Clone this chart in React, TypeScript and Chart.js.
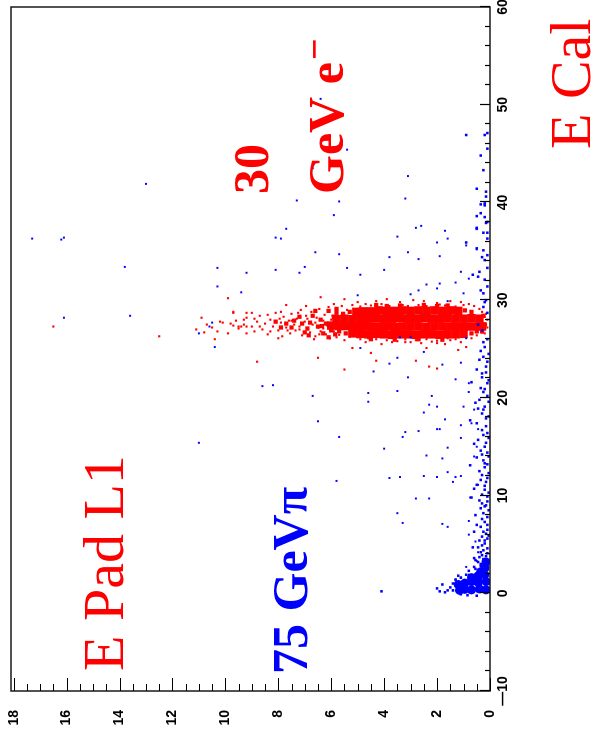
import React, { useEffect, useRef } from "react";
import { Chart, registerables } from "chart.js";

Chart.register(...registerables);

// Unrotated drawing size; the finished picture is turned 90° counter-clockwise.
const W = 744;
const H = 595;

// Axis tick labels
const ecalTickLabels = [-10, 0, 10, 20, 30, 40, 50, 60];
const padTickLabels = [0, 2, 4, 6, 8, 10, 12, 14, 16, 18];

// Points as [E Pad L1, E Cal]
const electronCore: number[][] = [
  [1.2, 28.9], [1.5, 28.95], [1.8, 28.9], [2.1, 28.95], [2.4, 28.9], [2.7, 28.95], [3.0, 28.9], [3.3, 28.95],
  [3.6, 28.9], [3.9, 28.9], [4.2, 28.95], [4.5, 28.85], [4.8, 28.85], [5.05, 28.8],
  [0.4, 28.1], [0.7, 28.15], [1.0, 28.1], [1.3, 28.1], [1.6, 28.15], [1.9, 28.1], [2.2, 28.1], [2.5, 28.15], [2.8, 28.1],
  [3.1, 28.1], [3.4, 28.15], [3.7, 28.1], [4.0, 28.1], [4.3, 28.15], [4.6, 28.1], [4.9, 28.1], [5.2, 28.05], [5.5, 28.1], [5.8, 28.05],
  [0.3, 27.3], [0.6, 27.3], [0.9, 27.3], [1.2, 27.25], [1.5, 27.3], [1.8, 27.3], [2.1, 27.3], [2.4, 27.25], [2.7, 27.3],
  [3.0, 27.3], [3.3, 27.3], [3.6, 27.25], [3.9, 27.3], [4.2, 27.3], [4.5, 27.3], [4.8, 27.35], [5.1, 27.3], [5.4, 27.35],
  [5.7, 27.35], [6.0, 27.4],
  [1.0, 26.55], [1.3, 26.5], [1.6, 26.5], [1.9, 26.45], [2.2, 26.5], [2.5, 26.5], [2.8, 26.45], [3.1, 26.5], [3.4, 26.5],
  [3.7, 26.45], [4.0, 26.5], [4.3, 26.55], [4.6, 26.5], [4.9, 26.55], [5.2, 26.6],
];

const electronDense: number[][] = [
  [5.9, 28.3], [6.2, 27.6], [6.0, 27.0], [6.4, 28.0], [6.5, 27.3], [6.3, 26.6], [6.7, 28.4], [6.8, 27.7], [6.9, 27.1],
  [7.1, 27.6], [7.2, 28.3], [7.0, 26.7], [7.4, 27.9], [7.5, 27.2], [7.7, 27.6], [6.1, 28.9], [6.6, 28.9], [6.1, 26.2],
  [5.8, 29.1], [5.85, 26.5], [7.9, 27.2], [8.1, 27.8], [6.35, 27.35], [6.85, 26.4], [5.7, 27.6], [0.2, 27.5],
  [0.25, 28.4], [0.3, 26.8], [0.7, 28.8], [0.95, 28.95], [5.3, 28.8], [5.55, 28.6], [5.8, 28.7], [0.7, 26.6],
  [0.5, 26.8], [5.45, 26.6], [5.7, 26.8], [6.0, 26.9], [1.6, 29.45], [2.5, 29.5], [3.4, 29.45], [4.3, 29.5],
  [2.0, 29.4], [3.9, 29.4], [1.8, 25.95], [2.7, 26.0], [3.6, 25.95], [4.5, 26.0],
];

const electronHits: number[][] = [
  [9.8, 27.6], [9.6, 27.9], [9.5, 27.1], [9.3, 27.5], [9.2, 28.2], [9.0, 27.3], [8.9, 26.8], [8.8, 27.8], [8.7, 28.4],
  [8.6, 27.0], [8.5, 27.6], [8.4, 26.5], [8.3, 28.0], [8.2, 27.3], [8.1, 28.7], [8.0, 26.9], [7.9, 27.7], [7.85, 26.3],
  [7.8, 28.3], [7.7, 27.2], [7.6, 27.9], [7.55, 26.6], [7.5, 28.6], [7.4, 27.5], [7.35, 26.9], [7.3, 28.1], [7.2, 27.3],
  [7.15, 29.0], [7.1, 26.4], [7.0, 27.8], [6.95, 28.4], [6.9, 27.0], [6.8, 26.7], [6.75, 28.8], [6.7, 27.5], [6.6, 26.3],
  [6.55, 28.2], [6.5, 27.2], [6.45, 29.1], [6.4, 26.8], [6.3, 27.9], [6.25, 28.5], [6.2, 26.5], [6.15, 27.4], [6.1, 29.3],
  [6.05, 26.1], [6.0, 28.0], [6.3, 27.1], [6.6, 27.7], [6.9, 28.1], [7.2, 27.0], [7.5, 27.9], [6.45, 26.5],
  [8.7, 27.3], [8.9, 28.1], [8.3, 26.8], [7.95, 28.1], [7.65, 26.9], [7.25, 28.7], [6.95, 29.4], [6.65, 26.0],
  [0.6, 29.4], [1.0, 29.5], [1.3, 29.35], [1.7, 29.45], [2.0, 29.7], [2.4, 29.4], [2.7, 29.5], [3.1, 29.4], [3.4, 29.8],
  [3.8, 29.4], [4.1, 29.6], [4.5, 29.45], [4.9, 29.35], [5.2, 29.5], [5.6, 29.4], [5.9, 29.6], [1.5, 29.9], [2.9, 30.0],
  [4.3, 29.9], [0.4, 29.1], [5.4, 29.0], [5.8, 28.9], [5.95, 28.4], [6.0, 27.4], [0.8, 29.6], [1.9, 29.55], [3.3, 29.5],
  [4.7, 29.6], [5.0, 29.8], [2.5, 29.9], [3.9, 30.1], [1.1, 29.8],
  [0.5, 26.4], [0.9, 26.3], [1.3, 26.0], [1.6, 26.1], [2.0, 25.85], [2.4, 26.0], [2.8, 25.9], [3.2, 26.0], [3.5, 25.8],
  [3.9, 25.9], [4.3, 26.0], [4.6, 26.1], [5.0, 26.2], [5.3, 26.25], [5.7, 26.45], [1.1, 25.7], [2.6, 25.6], [4.1, 25.5],
  [0.3, 26.7], [5.9, 26.8], [4.7, 25.7], [3.2, 25.7], [2.0, 25.6], [1.7, 25.5], [5.8, 26.2], [0.7, 26.1], [2.2, 25.75],
  [3.7, 25.7], [4.9, 26.0], [5.5, 25.9], [1.5, 25.9], [3.0, 25.7],
  [0.15, 27.5], [0.2, 28.3], [0.25, 27.0], [0.1, 28.0], [0.3, 28.8], [0.2, 26.6], [0.1, 27.2], [0.15, 28.6],
  [9.7, 28.8], [8.8, 23.7], [6.5, 24.1], [5.5, 22.9], [5.5, 30.1], [6.4, 30.3], [4.3, 23.8], [2.8, 23.8], [2.3, 23.2],
  [2.0, 23.0], [5.2, 25.1], [4.5, 24.6], [2.4, 25.1], [1.2, 24.9], [0.9, 25.2], [8.0, 26.1], [7.9, 28.8], [7.7, 29.5],
  [9.0, 28.7], [8.4, 28.5], [9.2, 27.3], [9.5, 27.3],
  [16.5, 27.3], [12.5, 26.3], [9.9, 30.2], [9.7, 28.7], [10.9, 28.2], [11.1, 27.0], [10.7, 27.5], [10.5, 27.2],
  [10.3, 26.8], [10.2, 27.8], [9.9, 26.6], [9.7, 27.4], [9.4, 27.3], [9.3, 28.0], [9.2, 28.7], [10.4, 26.0],
  [10.8, 26.7], [10.1, 27.7], [9.2, 26.6],
];

const pionBlob: number[][] = [
  [0.15, 1.2], [0.45, 1.1], [0.7, 1.2], [0.95, 1.05], [1.2, 0.9], [0.15, 0.35], [0.4, 0.45], [0.7, 0.35],
  [0.95, 0.4], [1.15, 0.3], [0.2, 1.9], [0.45, 1.8], [0.7, 1.6], [0.2, 2.6], [0.35, 2.2], [0.15, 3.2],
];

const pionStrip: number[][] = [
  [0.2, 46.9], [0.1, 47.1], [0.9, 46.9], [0.5, 41.4], [0.15, 41.1], [0.15, 40.6], [0.35, 39.8], [0.2, 39.9], [0.5, 38.6],
  [0.35, 38.9], [0.1, 38.0], [0.5, 37.3], [0.25, 36.9], [0.1, 36.3], [0.9, 35.9], [0.2, 39.7], [0.2, 38.5], [0.5, 37.4],
  [0.15, 37.9], [0.5, 35.3], [0.25, 35.1], [0.1, 34.6], [0.2, 34.1], [0.4, 32.9], [0.45, 32.4], [0.65, 32.6], [0.2, 32.1],
  [0.1, 31.4], [0.25, 30.7], [0.15, 30.0], [0.25, 29.3], [0.1, 28.7], [0.2, 25.2], [0.25, 24.2], [0.15, 23.2], [0.4, 23.9],
  [0.5, 22.9], [0.3, 22.1], [0.1, 21.5], [0.25, 20.6], [0.4, 19.8], [0.2, 19.1], [0.55, 19.5], [0.7, 21.6], [0.75, 17.7],
  [0.5, 17.4], [0.3, 16.7], [0.1, 16.4], [0.45, 15.7], [0.2, 15.0], [0.1, 14.4], [0.25, 13.6], [0.2, 12.9], [0.3, 12.1],
  [0.15, 11.4], [0.5, 11.1], [0.2, 10.6], [0.4, 9.5], [0.15, 9.0], [0.25, 8.2], [0.2, 7.3], [0.5, 7.0], [0.1, 6.5],
  [0.3, 5.8], [0.2, 5.1], [0.45, 4.7], [0.25, 4.4], [0.1, 4.1], [0.4, 3.7], [0.55, 3.4], [0.2, 3.1], [0.3, 2.7],
  [0.1, 2.4], [0.45, 2.1], [0.25, 1.7], [0.65, 1.4], [0.75, 13.1], [0.7, 9.8], [0.65, 4.7], [0.6, 3.6],
  [0.1, 20.2], [0.3, 18.4], [0.15, 17.9], [0.35, 14.6], [0.1, 13.2], [0.4, 12.5], [0.1, 11.8], [0.3, 10.1], [0.1, 9.9],
  [0.35, 8.7], [0.1, 7.8], [0.35, 6.8], [0.15, 6.1], [0.4, 5.4], [0.1, 5.6], [0.3, 4.9], [0.15, 3.8], [0.35, 3.0],
  [0.1, 2.9], [0.3, 2.2], [0.6, 6.3], [0.55, 8.0], [0.6, 10.7], [0.5, 13.9], [0.6, 15.3], [0.45, 18.9], [0.35, 21.0],
  [0.15, 22.6], [0.35, 24.8], [0.1, 26.0], [0.3, 26.9], [0.45, 27.5], [0.2, 29.8], [0.35, 31.0], [0.1, 33.3], [0.3, 34.4],
  [0.1, 36.9], [0.25, 43.3], [0.35, 44.8], [0.1, 45.5],
  [0.05, 1.0], [0.2, 1.4], [0.35, 1.5], [0.1, 1.9], [0.2, 2.5], [0.05, 3.3], [0.25, 3.5], [0.1, 4.6], [0.35, 4.2],
  [0.2, 5.4], [0.05, 5.9], [0.25, 6.3], [0.1, 7.0], [0.3, 7.6], [0.05, 8.5], [0.2, 8.9], [0.1, 9.4], [0.3, 9.2],
  [0.05, 10.3], [0.2, 11.0], [0.35, 11.6], [0.05, 12.3], [0.2, 13.3], [0.05, 14.0], [0.3, 14.2], [0.15, 15.4],
  [0.05, 15.9], [0.25, 16.2], [0.15, 17.1], [0.05, 18.1], [0.25, 18.8], [0.05, 19.6], [0.2, 20.9], [0.05, 21.8],
  [0.3, 22.5], [0.1, 23.7], [0.05, 24.5], [0.25, 25.7], [0.3, 3.9], [0.45, 3.2], [0.55, 2.5], [0.35, 2.8],
  [1.4, 0.3], [1.5, 0.6], [1.6, 0.3], [1.4, 1.0], [1.3, 1.4], [1.1, 1.6], [0.9, 1.9], [0.8, 2.3], [0.6, 2.7], [1.7, 0.1],
  [2.0, 0.5], [4.1, 0.2], [1.8, 0.9], [1.9, 0.2], [1.2, 1.8], [0.85, -0.2], [0.5, -0.25], [1.1, -0.1],
];

const pionHits: number[][] = [
  [13.0, 41.9], [17.3, 36.3], [16.2, 36.2], [16.1, 36.4], [13.8, 33.4], [10.3, 33.3], [9.2, 32.8], [10.3, 31.4],
  [9.4, 30.8], [16.1, 28.2], [13.6, 28.4], [11.0, 26.6], [10.4, 25.2], [11.0, 15.4],
  [8.1, 33.1], [7.2, 32.8], [7.0, 33.4], [6.6, 34.9], [5.7, 34.7], [5.4, 33.3], [4.9, 32.6], [4.0, 33.1], [3.8, 34.4],
  [3.1, 34.9], [2.7, 34.2], [2.0, 35.9], [1.9, 34.5], [0.9, 35.6], [0.5, 35.2], [2.4, 31.6], [1.9, 31.7], [1.3, 31.8],
  [1.1, 32.9], [0.8, 32.2], [3.0, 30.6], [2.7, 31.0], [2.0, 31.2], [1.0, 30.7], [5.0, 30.5], [1.6, 29.9], [10.5, 27.7],
  [10.6, 27.3], [8.6, 21.2], [8.2, 21.3], [6.7, 20.2], [4.6, 20.5], [3.5, 20.7], [2.2, 20.2], [3.8, 23.5], [3.1, 22.1],
  [4.4, 22.7], [2.5, 24.7], [1.8, 23.4], [1.3, 21.9], [1.1, 23.6], [3.5, 24.1], [0.8, 21.5], [0.8, 20.6], [4.9, 25.1],
  [3.4, 26.2], [3.0, 26.2], [0.9, 26.1],
  [4.6, 19.6], [6.5, 17.6], [5.7, 16.0], [5.8, 11.5], [4.0, 14.8], [3.8, 11.8], [3.4, 11.9], [3.5, 8.2], [3.3, 7.2],
  [2.8, 9.7], [2.3, 9.7], [1.8, 7.1], [1.6, 6.8], [0.8, 7.4], [0.75, 9.8], [3.3, 16.0], [3.2, 16.5], [2.7, 16.6],
  [2.5, 18.5], [2.3, 19.3], [2.0, 19.1], [1.7, 17.8], [2.0, 16.8], [1.9, 16.8], [2.4, 14.1], [1.8, 13.8], [1.6, 14.9],
  [1.6, 12.4], [2.5, 12.0], [2.0, 11.9], [1.3, 11.9], [1.1, 12.0], [1.4, 11.4], [1.1, 15.9], [1.1, 17.2], [1.0, 19.1],
  [0.7, 17.4], [0.6, 18.8], [0.45, 16.8], [0.6, 14.0], [0.5, 15.0], [0.45, 11.1], [0.8, 6.0], [0.55, 5.3], [0.45, 4.2],
  [0.5, 3.3], [0.9, 2.7], [0.8, 1.9], [1.1, 1.6], [1.3, 1.4], [1.2, 0.6], [1.4, 0.3],
  [6.4, 50.6], [5.4, 45.4], [6.7, 43.5], [7.3, 40.2], [5.7, 40.1], [5.9, 38.7], [7.7, 37.3], [8.1, 36.4], [7.9, 36.3],
  [3.1, 42.7], [3.2, 40.4], [2.8, 37.4], [2.6, 37.6], [3.5, 36.5], [1.7, 37.1], [1.6, 36.3],
];

const RED = "#ff0000";
const BLUE = "#0000ff";

const toXY = (arr: number[][]) => arr.map(([pad, cal]) => ({ x: cal, y: pad }));

const rootFrame = {
  id: "rootFrame",
  afterDraw(chart: any) {
    const { ctx, chartArea: a, scales } = chart;
    const xs = scales.x;
    const ys = scales.y;
    ctx.save();
    ctx.strokeStyle = "#1a1a1a";
    ctx.lineWidth = 1.5;
    ctx.strokeRect(a.left, a.top, a.right - a.left, a.bottom - a.top);
    ctx.lineWidth = 1.2;
    ctx.strokeStyle = "#000";
    ctx.beginPath();
    for (let v = ecalTickLabels[0]; v <= ecalTickLabels[ecalTickLabels.length - 1] + 1e-6; v += 2) {
      const px = Math.round(xs.getPixelForValue(v)) + 0.5;
      const len = ecalTickLabels.includes(v) ? 10 : 5;
      ctx.moveTo(px, a.bottom);
      ctx.lineTo(px, a.bottom - len);
    }
    for (let v = padTickLabels[0]; v <= padTickLabels[padTickLabels.length - 1] + 1e-6; v += 0.5) {
      const py = Math.round(ys.getPixelForValue(v)) + 0.5;
      const len = padTickLabels.includes(v) ? 13 : 7;
      ctx.moveTo(a.left, py);
      ctx.lineTo(a.left + len, py);
    }
    ctx.stroke();
    ctx.restore();
  },
};

const annotations = {
  id: "annotations",
  afterDraw(chart: any) {
    const ctx = chart.ctx;
    ctx.save();
    ctx.textAlign = "left";
    ctx.textBaseline = "alphabetic";
    ctx.fillStyle = RED;
    ctx.font = '58px "Liberation Serif", "Times New Roman", serif';
    ctx.fillText("E Cal", 595, 590);
    ctx.fillText("E Pad L1", 73, 123);
    ctx.fillStyle = BLUE;
    ctx.font = 'bold 50px "Liberation Serif", "Times New Roman", serif';
    ctx.fillText("75 GeVπ", 70, 307);
    ctx.fillStyle = RED;
    ctx.fillText("30", 550, 268);
    ctx.fillText("GeV e", 550, 343);
    const w = ctx.measureText("GeV e").width;
    ctx.font = 'bold 38px "Liberation Serif", "Times New Roman", serif';
    ctx.fillText("−", 550 + w + 2, 327);
    ctx.restore();
  },
};

const tickFont = { family: '"Liberation Sans", Arial, sans-serif', size: 14, weight: "bold" as const };

export default function App() {
  const ref = useRef<HTMLCanvasElement | null>(null);

  useEffect(() => {
    if (!ref.current) return;
    document.body.style.overflow = "hidden";
    const dot = (label: string, data: number[][], color: string, style: string, radius: number) => ({
      label,
      data: toXY(data),
      backgroundColor: color,
      pointStyle: style,
      pointRadius: radius,
      pointBorderWidth: 0,
    });
    const chart = new Chart(ref.current, {
      type: "scatter",
      data: {
        datasets: [
          dot("75 GeV π", pionHits, BLUE, "rect", 1.4),
          dot("75 GeV π (near 0)", pionStrip, BLUE, "rect", 1.8),
          dot("75 GeV π (MIP)", pionBlob, BLUE, "circle", 4.5),
          dot("30 GeV e−", electronHits, RED, "rect", 1.5),
          dot("30 GeV e− (dense)", electronDense, RED, "rect", 3),
          dot("30 GeV e− (core)", electronCore, RED, "rect", 6),
        ] as any,
      },
      options: {
        responsive: false,
        devicePixelRatio: 1,
        animation: false,
        events: [],
        layout: { padding: { left: 0, right: 7, top: 11, bottom: 0 } },
        plugins: { legend: { display: false }, tooltip: { enabled: false } },
        scales: {
          x: {
            type: "linear",
            position: "bottom",
            min: -10,
            max: 60,
            afterBuildTicks: (s: any) => {
              s.ticks = ecalTickLabels.map((v) => ({ value: v }));
            },
            afterFit: (s: any) => {
              s.height = H - 490;
              s.paddingLeft = 0;
              s.paddingRight = 0;
            },
            grid: { display: false, drawTicks: false },
            border: { display: false },
            ticks: {
              autoSkip: false,
              maxRotation: 0,
              minRotation: 0,
              padding: 5,
              color: "#000",
              font: tickFont,
              callback: (v: any) => (Number(v) < 0 ? "—" + Math.abs(Number(v)) : String(v)),
            },
          },
          y: {
            type: "linear",
            position: "left",
            min: 0,
            max: 18.1,
            afterBuildTicks: (s: any) => {
              s.ticks = padTickLabels.map((v) => ({ value: v }));
            },
            afterFit: (s: any) => {
              s.width = 53;
              s.paddingTop = 0;
              s.paddingBottom = 0;
            },
            grid: { display: false, drawTicks: false },
            border: { display: false },
            ticks: {
              autoSkip: false,
              padding: 19,
              color: "#000",
              font: tickFont,
            },
          },
        },
      },
      plugins: [rootFrame, annotations],
    });
    return () => chart.destroy();
  }, []);

  return (
    <div
      style={{
        position: "absolute",
        left: 0,
        top: 0,
        width: W,
        height: H,
        background: "#fff",
        transformOrigin: "0 0",
        transform: `translate(0px, ${W}px) rotate(-90deg)`,
      }}
    >
      <canvas ref={ref} width={W} height={H} style={{ display: "block", width: W, height: H }} />
    </div>
  );
}
